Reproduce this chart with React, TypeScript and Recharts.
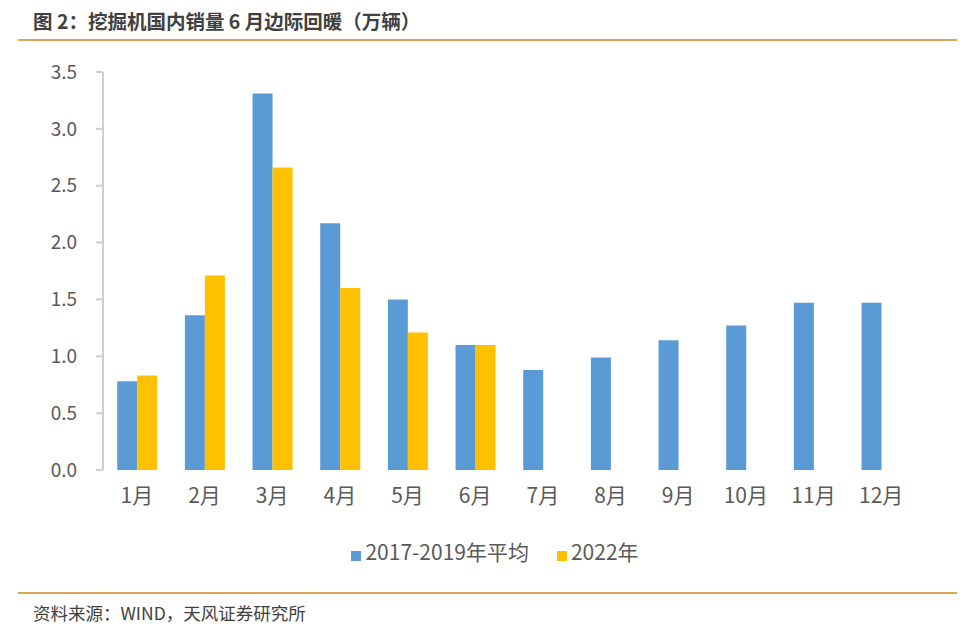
import { BarChart, Bar, XAxis, YAxis, Legend } from 'recharts';

const months = ['1月', '2月', '3月', '4月', '5月', '6月', '7月', '8月', '9月', '10月', '11月', '12月'];
const avg2017to2019 = [0.78, 1.36, 3.31, 2.17, 1.5, 1.1, 0.88, 0.99, 1.14, 1.27, 1.47, 1.47];
const sales2022 = [0.83, 1.71, 2.66, 1.6, 1.21, 1.1, null, null, null, null, null, null];
const yTicks = [0, 0.5, 1, 1.5, 2, 2.5, 3, 3.5];
// category boundaries, drawn Excel-style on a hidden numeric axis
const edgeTicks = [0, 1, 2, 3, 4, 5, 6, 7, 8, 9, 10, 11, 12];

const FONT = '"Noto Sans CJK SC", "Microsoft YaHei", sans-serif';
const TEXT = '#595959';
const AXIS = '#cfcfcf';
const RULE = '#dba553';

const data = months.map((m, i) => ({ month: m, avg: avg2017to2019[i], y2022: sales2022[i] }));

export default function App() {
  return (
    <div style={{ position: 'absolute', left: 0, top: 0, width: 977, height: 635, background: '#fff', fontFamily: FONT }}>
      <div style={{ position: 'absolute', left: 33, top: 6, fontSize: 19.5, fontWeight: 700, color: '#404040', whiteSpace: 'nowrap' }}>
        图 2：挖掘机国内销量 6 月边际回暖（万辆）
      </div>
      <div style={{ position: 'absolute', left: 18, top: 39, width: 939, height: 2, background: RULE }} />

      <div style={{ position: 'absolute', left: 0, top: 0 }}>
        <BarChart
          width={977}
          height={578}
          data={data}
          margin={{ top: 72, right: 62, left: 43, bottom: 12 }}
          barGap={0}
          barCategoryGap="21%"
        >
          <XAxis
            xAxisId="edge"
            type="number"
            domain={[0, 12]}
            ticks={edgeTicks}
            allowDataOverflow
            height={0}
            tick={false}
            tickSize={6}
            tickLine={{ stroke: AXIS, strokeWidth: 2 }}
            axisLine={{ stroke: AXIS, strokeWidth: 2 }}
          />
          <XAxis
            xAxisId="cat"
            dataKey="month"
            height={66}
            axisLine={false}
            tickLine={false}
            tickSize={0}
            tickMargin={18}
            interval={0}
            tick={{ fontSize: 21, fill: TEXT, fontFamily: FONT }}
          />
          <YAxis
            width={60}
            domain={[0, 3.5]}
            ticks={yTicks}
            tickFormatter={(v: number) => v.toFixed(1)}
            tickSize={7}
            tickMargin={19}
            axisLine={{ stroke: AXIS, strokeWidth: 2 }}
            tickLine={{ stroke: AXIS, strokeWidth: 2 }}
            tick={{ fontSize: 19, fill: TEXT, fontFamily: FONT }}
          />
          <Legend
            verticalAlign="bottom"
            align="center"
            iconType="square"
            iconSize={10}
            wrapperStyle={{ paddingLeft: 30 }}
            formatter={(value: string) => (
              <span style={{ color: TEXT, fontSize: 21, fontFamily: FONT, marginRight: 18 }}>{value}</span>
            )}
          />
          <Bar xAxisId="cat" dataKey="avg" name="2017-2019年平均" fill="#5b9bd5" isAnimationActive={false} />
          <Bar xAxisId="cat" dataKey="y2022" name="2022年" fill="#ffc000" isAnimationActive={false} />
        </BarChart>
      </div>

      <div style={{ position: 'absolute', left: 18, top: 592, width: 939, height: 2, background: RULE }} />
      <div style={{ position: 'absolute', left: 33, top: 600, fontSize: 17.5, color: '#404040', whiteSpace: 'nowrap' }}>
        资料来源：WIND，天风证券研究所
      </div>
    </div>
  );
}
